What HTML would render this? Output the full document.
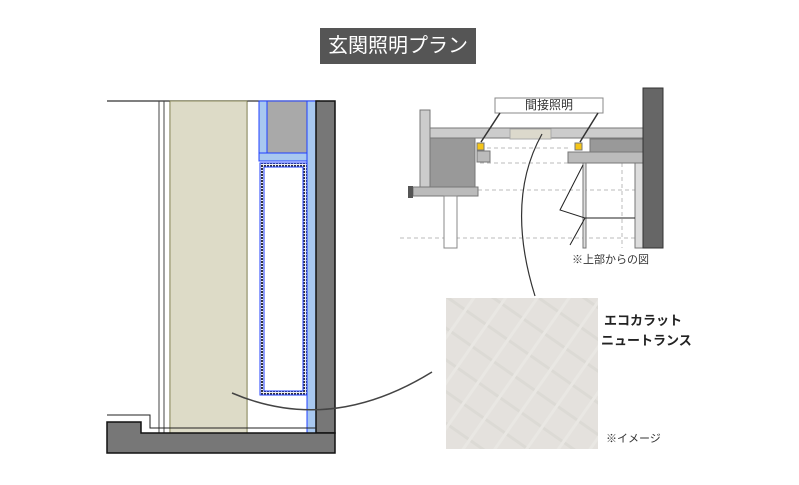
<!DOCTYPE html>
<html><head><meta charset="utf-8"><style>
body{margin:0;width:799px;height:485px;background:#fff;overflow:hidden;position:relative;font-family:"Liberation Sans","Noto Sans CJK JP",sans-serif}
.t{position:absolute;white-space:nowrap}
</style></head><body>
<svg width="799" height="485" style="position:absolute;left:0;top:0">
<defs>
<pattern id="hat" width="3" height="3" patternUnits="userSpaceOnUse"><rect width="3" height="3" fill="#eee"/><rect width="2" height="2" fill="#334"/></pattern>
<pattern id="dia" width="26" height="26" patternUnits="userSpaceOnUse" patternTransform="rotate(35)"><rect width="26" height="26" fill="#e3e1dd"/><path d="M0 13H26" stroke="#d8d6d1" stroke-width="3"/><path d="M13 0V26" stroke="#ebeae7" stroke-width="3"/></pattern>
</defs>
<rect x="320" y="28" width="156" height="36" fill="#555"/>
<line x1="107" y1="101" x2="320" y2="101" stroke="#333" stroke-width="1.2"/>
<line x1="159" y1="101" x2="159" y2="433" stroke="#444"/>
<line x1="164" y1="101" x2="164" y2="433" stroke="#444"/>
<rect x="170" y="101" width="77" height="332" fill="#dad8cd" stroke="#6b6b3a"/>
<rect x="170" y="101" width="77" height="332" fill="#e6e2b8" opacity="0.3"/>
<rect x="259" y="101" width="8" height="52" fill="#a8c8f0" stroke="#2040ff"/>
<rect x="267" y="101" width="40" height="52" fill="#a9a9a9" stroke="#2040ff"/>
<rect x="259" y="153" width="48" height="8" fill="#a8c8f0" stroke="#2040ff"/>
<rect x="307" y="101" width="9" height="332" fill="#a8c8f0" stroke="#2040ff"/>
<rect x="260" y="163" width="47" height="232" fill="url(#hat)" stroke="#2040ff"/>
<rect x="264" y="167" width="39" height="224" fill="#fff" stroke="#2040ff"/>
<rect x="316" y="101" width="19" height="332" fill="#777" stroke="#111" stroke-width="1.5"/>
<path d="M107 415H150V428H316" fill="none" stroke="#222"/>
<path d="M107 422H141V433H335V453H107Z" fill="#777" stroke="#111" stroke-width="1.5"/>
<path d="M232 393Q330 435 432 372" fill="none" stroke="#444" stroke-width="1.5"/>
<g stroke="#bbb" stroke-dasharray="4,3" fill="none">
<line x1="480" y1="148" x2="568" y2="148"/>
<line x1="480" y1="163" x2="568" y2="163"/>
<line x1="478" y1="190" x2="640" y2="190"/>
<line x1="400" y1="238" x2="640" y2="238"/>
<line x1="622" y1="163" x2="622" y2="248"/>
</g>
<rect x="420" y="110" width="10" height="77" fill="#ccc" stroke="#777"/>
<rect x="430" y="128" width="213" height="10" fill="#ccc" stroke="#777"/>
<rect x="430" y="138" width="45" height="49" fill="#999" stroke="#777"/>
<rect x="413" y="187" width="65" height="9" fill="#bbb" stroke="#777"/>
<rect x="444" y="196" width="13" height="52" fill="#fff" stroke="#888"/>
<rect x="510" y="129" width="41" height="10" fill="#dcd9cc" stroke="#aaa"/>
<rect x="477" y="143" width="7" height="7" fill="#f5c518" stroke="#777"/>
<rect x="575" y="143" width="7" height="7" fill="#f5c518" stroke="#777"/>
<rect x="477" y="151" width="13" height="11" fill="#bbb" stroke="#777"/>
<rect x="590" y="139" width="53" height="13" fill="#999" stroke="#777"/>
<rect x="568" y="152" width="75" height="11" fill="#bbb" stroke="#777"/>
<rect x="583" y="163" width="3" height="85" fill="#ddd" stroke="#777"/>
<rect x="635" y="163" width="8" height="85" fill="#ddd" stroke="#777"/>
<rect x="643" y="88" width="20" height="160" fill="#666" stroke="#333"/>
<rect x="408" y="186" width="5" height="12" fill="#555"/>
<rect x="495" y="98" width="108" height="15" fill="#fff" stroke="#888"/>
<line x1="500" y1="113" x2="481" y2="142" stroke="#333" stroke-width="1.5"/>
<line x1="598" y1="113" x2="580" y2="142" stroke="#333" stroke-width="1.5"/>
<path d="M583 165L560 210L585 218L570 245" fill="none" stroke="#222"/>
<line x1="585" y1="218" x2="635" y2="218" stroke="#222"/>
<path d="M542 134Q505 200 535 296" fill="none" stroke="#333" stroke-width="1.2"/>
<rect x="446" y="298" width="152" height="151" fill="url(#dia)"/>
<rect x="446" y="298" width="152" height="151" fill="#e4e2de" opacity="0.35"/>
</svg>
<div class="t" style="left:320px;top:30px;width:156px;text-align:center;color:#fff;font-size:20px;line-height:32px">玄関照明プラン</div>
<div class="t" style="left:495px;top:98px;width:108px;text-align:center;font-size:12px;line-height:15px;color:#333">間接照明</div>
<div class="t" style="left:572px;top:251px;font-size:11px;color:#333">※上部からの図</div>
<div class="t" style="left:604px;top:310px;font-size:13px;font-weight:bold;color:#222">エコカラット</div>
<div class="t" style="left:601px;top:330px;font-size:13px;font-weight:bold;color:#222">ニュートランス</div>
<div class="t" style="left:606px;top:430px;font-size:11px;color:#333">※イメージ</div>
</body></html>
